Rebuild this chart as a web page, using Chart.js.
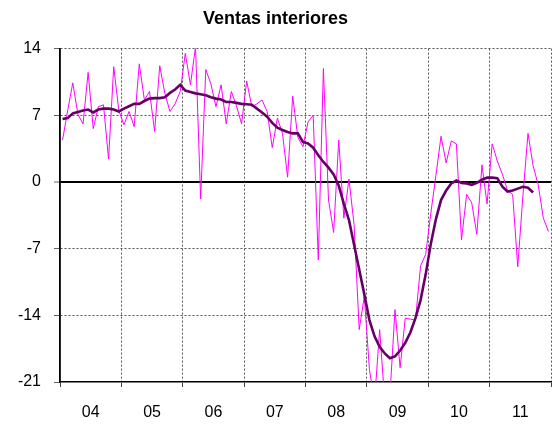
<!DOCTYPE html>
<html><head><meta charset="utf-8">
<script src="https://cdn.jsdelivr.net/npm/chart.js@4/dist/chart.umd.min.js"></script>
<style>html,body{margin:0;padding:0;background:#fff;overflow:hidden}canvas{display:block}</style>
</head><body>
<canvas id="c" width="552" height="426"></canvas>
<script>
const title = 'Ventas interiores';
const years = ['04','05','06','07','08','09','10','11'];
const yTickValues = [-21, -14, -7, 0, 7, 14];
// monthly raw series, Jan 2004 .. Dec 2011
const ventasMensual = [
  4.4, 7.5, 10.4, 7.1, 6.1, 11.5, 5.6, 7.9, 8.1, 2.4, 12.1, 7.5,
  6.0, 7.4, 5.8, 12.4, 8.6, 9.5, 5.3, 12.2, 9.3, 7.4, 8.2, 9.5,
  13.5, 10.2, 14.2, -1.8, 11.8, 10.3, 7.9, 10.2, 6.1, 9.5, 8.0, 6.1,
  10.6, 7.9, 8.2, 8.6, 7.4, 3.6, 6.7, 5.1, 0.5, 9.0, 4.7, 3.7,
  6.3, 7.0, -8.2, 11.9, -1.9, -5.3, 4.4, -3.8, 0.3, -4.5, -15.5, -12.0,
  -19.7, -23, -15.5, -23, -22.5, -13.4, -19.5, -14.3, -14.4, -14.5, -8.8, -7.6,
  -3.3, 0.7, 4.8, 2.0, 4.3, 4.0, -6.1, -1.3, -2.2, -5.5, 1.8, -2.3,
  4.0, 2.2, 0.8, -0.9, -1.3, -8.9, -1.5, 5.1, 1.7, -0.3, -3.8, -5.2
];
// smoothed trend, Jan 2004 .. Sep 2011
const ventasTendencia = [
  6.6, 6.7, 7.2, 7.35, 7.5, 7.6, 7.3, 7.6, 7.7, 7.7, 7.6, 7.4,
  7.7, 7.95, 8.2, 8.2, 8.5, 8.75, 8.8, 8.8, 8.9, 9.35, 9.7, 10.2,
  9.6, 9.45, 9.3, 9.2, 9.1, 8.9, 8.75, 8.65, 8.4, 8.4, 8.3, 8.2,
  8.15, 8.1, 7.7, 7.3, 6.85, 6.2, 5.7, 5.45, 5.25, 5.1, 5.1, 4.2,
  4.05, 3.6, 2.8, 2.1, 1.5, 0.8, -0.4, -2.3, -4.0, -6.6, -9.2, -11.8,
  -14.5, -16.2, -17.3, -18.0, -18.5, -18.3, -17.7, -16.9, -15.8, -14.3, -12.4, -9.7,
  -6.5, -3.9, -1.9, -0.9, -0.15, 0.15, -0.1, -0.15, -0.3, -0.1, 0.25, 0.45,
  0.45, 0.4, -0.5, -1.0, -0.9, -0.7, -0.5, -0.6, -1.1
];

const toPoints = arr => arr.map((v, i) => ({x: i + 0.5, y: v}));
const nMonths = years.length * 12;
const xTickValues = [];
for (let k = 0; k <= years.length; k++) {
  xTickValues.push(k * 12);
  if (k < years.length) xTickValues.push(k * 12 + 6);
}
const isYearEdge = v => v % 12 === 0;
const FONT = 'Arial, "Liberation Sans", sans-serif';
Chart.defaults.font.family = FONT;
Chart.defaults.color = '#000';

new Chart(document.getElementById('c'), {
  type: 'line',
  data: {
    datasets: [
      {
        data: toPoints(ventasTendencia),
        borderColor: '#660066',
        borderWidth: 2.6,
        pointRadius: 0,
        tension: 0,
        order: 1
      },
      {
        data: toPoints(ventasMensual),
        borderColor: '#ff00ff',
        borderWidth: 1,
        pointRadius: 0,
        tension: 0,
        order: 2
      }
    ]
  },
  options: {
    responsive: false,
    animation: false,
    devicePixelRatio: 1,
    layout: {padding: {left: 0, right: 1, top: 0, bottom: 0}},
    plugins: {
      legend: {display: false},
      tooltip: {enabled: false},
      title: {
        display: true,
        text: title,
        color: '#000',
        font: {size: 18, weight: 'bold', family: FONT},
        padding: {top: 8, bottom: 19}
      }
    },
    scales: {
      x: {
        type: 'linear',
        min: 0,
        max: nMonths,
        afterBuildTicks: s => { s.ticks = xTickValues.map(v => ({value: v})); },
        afterFit: s => { s.height = 44; s.paddingLeft = 0; s.paddingRight = 0; },
        ticks: {
          autoSkip: false,
          maxRotation: 0,
          padding: 16,
          font: {size: 16},
          color: '#000',
          callback: v => isYearEdge(v) ? '' : years[Math.floor(v / 12)]
        },
        grid: {
          color: c => (c.tick && isYearEdge(c.tick.value)) ? '#555' : 'rgba(0,0,0,0)',
          tickColor: c => (c.tick && isYearEdge(c.tick.value)) ? '#444' : 'rgba(0,0,0,0)',
          tickLength: 5,
          tickBorderDash: [],
          lineWidth: 1
        },
        border: {display: true, color: '#000', width: 1.5, dash: c => (c.tick && c.tick.value === 0) ? [] : [2, 2]}
      },
      y: {
        type: 'linear',
        min: yTickValues[0],
        max: yTickValues[yTickValues.length - 1],
        afterBuildTicks: s => { s.ticks = yTickValues.map(v => ({value: v})); },
        afterFit: s => { s.width = 60; s.paddingTop = 0; s.paddingBottom = 0; },
        ticks: {
          padding: 13,
          font: {size: 16},
          color: '#000',
          callback: v => String(v)
        },
        grid: {
          color: c => {
            if (!c.tick) return '#555';
            if (c.tick.value === yTickValues[0]) return 'rgba(0,0,0,0)';
            return c.tick.value === 0 ? '#000' : '#555';
          },
          lineWidth: c => (c.tick && c.tick.value === 0) ? 2 : 1,
          tickColor: '#666',
          tickLength: 6,
          tickWidth: 1,
          tickBorderDash: []
        },
        border: {display: true, color: '#000', width: 1.5, dash: c => (c.tick && c.tick.value === 0) ? [] : [2, 2]}
      }
    }
  }
});
</script>
</body></html>
